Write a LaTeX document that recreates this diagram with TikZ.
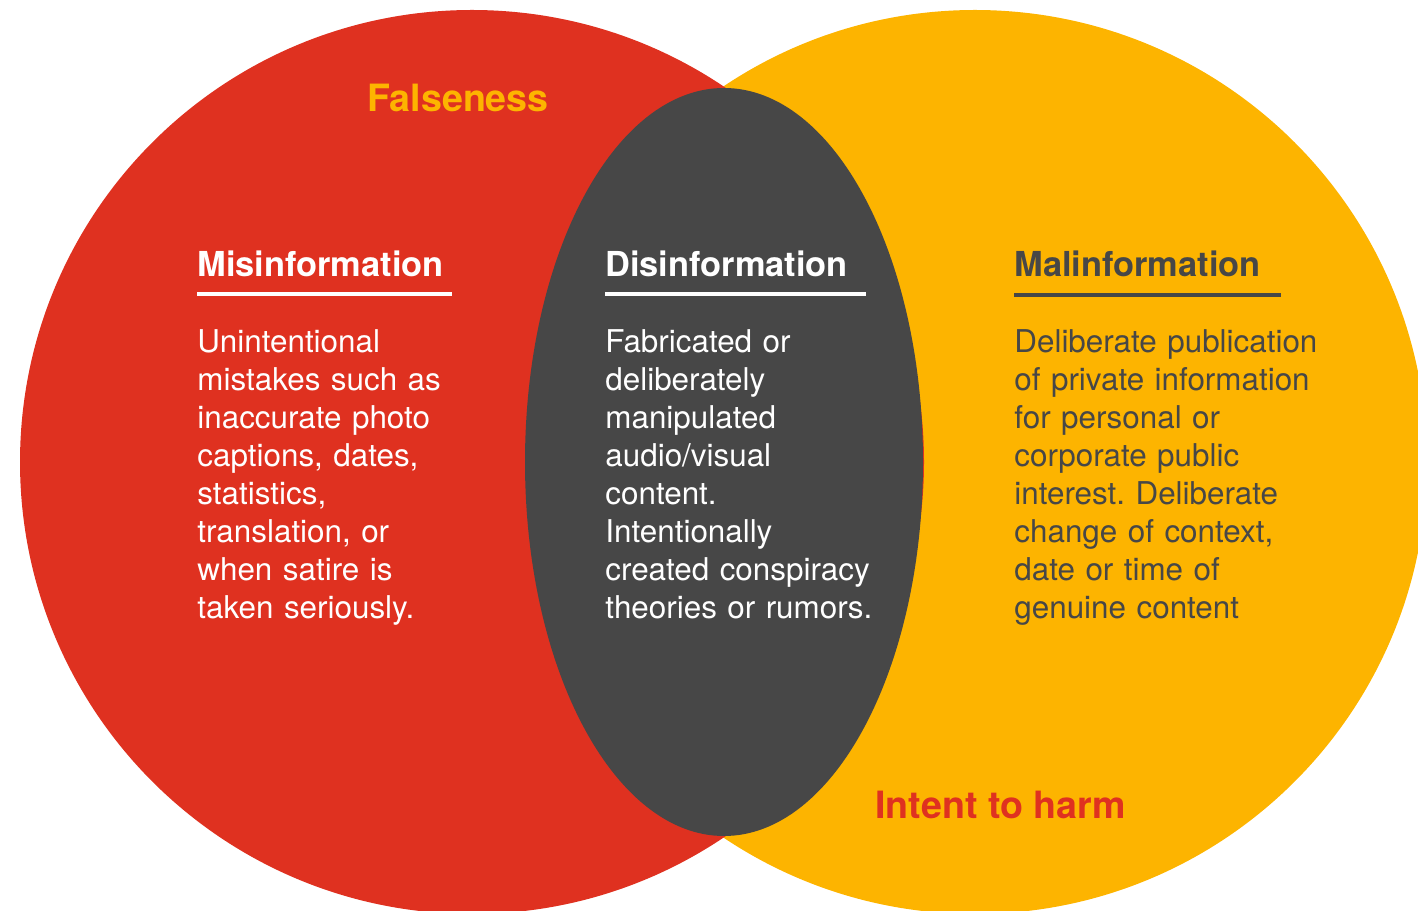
\documentclass[tikz,border=0pt]{standalone}
\usepackage{fontspec}
\setmainfont{TeX Gyre Heros}
\frenchspacing
\definecolor{falsered}{HTML}{DF3120}
\definecolor{harmyellow}{HTML}{FDB400}
\definecolor{lensgray}{HTML}{474747}

\begin{document}
\begin{tikzpicture}[x=0.5pt, y=0.5pt,
  head/.style={anchor=base west, inner sep=0pt, font=\bfseries\fontsize{17.2}{20}\selectfont},
  body/.style={anchor=base west, inner sep=0pt, text width=170pt, align=left,
    font=\fontsize{15.7}{19}\selectfont},
  tag/.style={anchor=base west, inner sep=0pt, font=\bfseries\fontsize{18.8}{22}\selectfont}]
  \useasboundingbox (0,0) rectangle (1418,910);
  \clip (0,0) rectangle (1418,910);
  % circles
  \fill[harmyellow] (975,448) circle [radius=452];
  \fill[falsered] (472,448) circle [radius=452];
  \fill[lensgray] (724,448) ellipse [x radius=199, y radius=374];
  % labels
  \node[tag, text=harmyellow] (falseness) at (367,798) {Falseness};
  \node[tag, text=falsered] (harm) at (875,91) {Intent to harm};
  % Misinformation
  \node[head, text=white] (mis) at (197,633) {Misinformation};
  \draw[white, line width=1.6] (197,616) -- (452,616);
  \node[body, text=white] (mistext) at (197,557) {Unintentional\\ mistakes such as\\ inaccurate photo\\
    captions, dates,\\ statistics,\\ translation, or\\ when satire is\\ taken seriously.};
  % Disinformation
  \node[head, text=white] (dis) at (605,633) {Disinformation};
  \draw[white, line width=1.6] (605,616) -- (866,616);
  \node[body, text=white] (distext) at (605,557) {Fabricated or\\ deliberately\\ manipulated\\
    audio/visual\\ content.\\ Intentionally\\ created conspiracy\\ theories or rumors.};
  % Malinformation
  \node[head, text=lensgray] (mal) at (1014,633) {Malinformation};
  \draw[lensgray, line width=2] (1014,615) -- (1281,615);
  \node[body, text=lensgray] (maltext) at (1014,557) {Deliberate publication\\ of private information\\
    for personal or\\ corporate public\\ interest. Deliberate\\ change of context,\\ date or time of\\ genuine content};
\end{tikzpicture}
\end{document}
